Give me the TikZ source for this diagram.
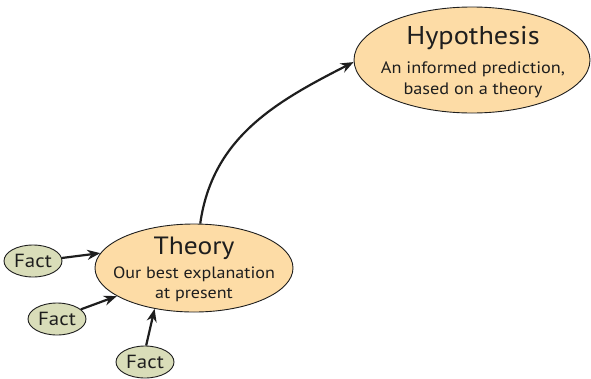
\documentclass[tikz,border=0pt]{standalone}
\usepackage{fontspec}
\setmainfont[FakeStretch=1.1]{PT Sans}
\usetikzlibrary{shapes.geometric,arrows.meta}
\definecolor{ideafill}{HTML}{FDDCA6}
\definecolor{factfill}{HTML}{D9DDB9}
\definecolor{edge}{HTML}{1E1E1E}
\tikzset{
  idea/.style={ellipse,draw=edge,line width=0.9pt,fill=ideafill,inner sep=0pt},
  fact/.style={ellipse,draw=edge,line width=0.9pt,fill=factfill,inner sep=0pt,minimum width=58pt,minimum height=32pt},
  txt/.style={inner sep=0pt,text=edge,anchor=base},
  link/.style={draw=edge,line width=2.2pt,-{Stealth[length=13pt,width=10pt]}},
}
\begin{document}
\begin{tikzpicture}[x=1pt,y=1pt]
\useasboundingbox (0,0) rectangle (591,-378);
\node[idea,minimum width=236pt,minimum height=106pt] (hyp) at (472,-60) {};
\node[txt,font=\fontsize{25.7}{28}\selectfont] (hypt) at (473,-44) {Hypothesis};
\node[txt,font=\fontsize{16.6}{20}\selectfont] (hyps1) at (473,-73) {An informed prediction,};
\node[txt,font=\fontsize{16.6}{20}\selectfont] (hyps2) at (473,-94) {based on a theory};
\node[idea,minimum width=198pt,minimum height=88pt] (th) at (194,-268) {};
\node[txt,font=\fontsize{25}{28}\selectfont] (tht) at (194,-254) {Theory};
\node[txt,font=\fontsize{16.4}{20}\selectfont] (ths1) at (194,-278) {Our best explanation};
\node[txt,font=\fontsize{16.4}{20}\selectfont] (ths2) at (194,-298) {at present};
\node[fact] (f1) at (33,-261) {};
\node[fact] (f2) at (57,-319) {};
\node[fact] (f3) at (145,-362) {};
\foreach \f in {f1,f2,f3}
  \node[txt,font=\fontsize{19}{22}\selectfont] at ([yshift=-6.5pt]\f.center) {Fact};
\draw[link] (f1.6) -- (th.171);
\draw[link] (f2.22) -- (th.200);
\draw[link] (f3.86) -- (th.226);
\draw[link] (th.82) to[out=82,in=207] (hyp.181);
\end{tikzpicture}
\end{document}
